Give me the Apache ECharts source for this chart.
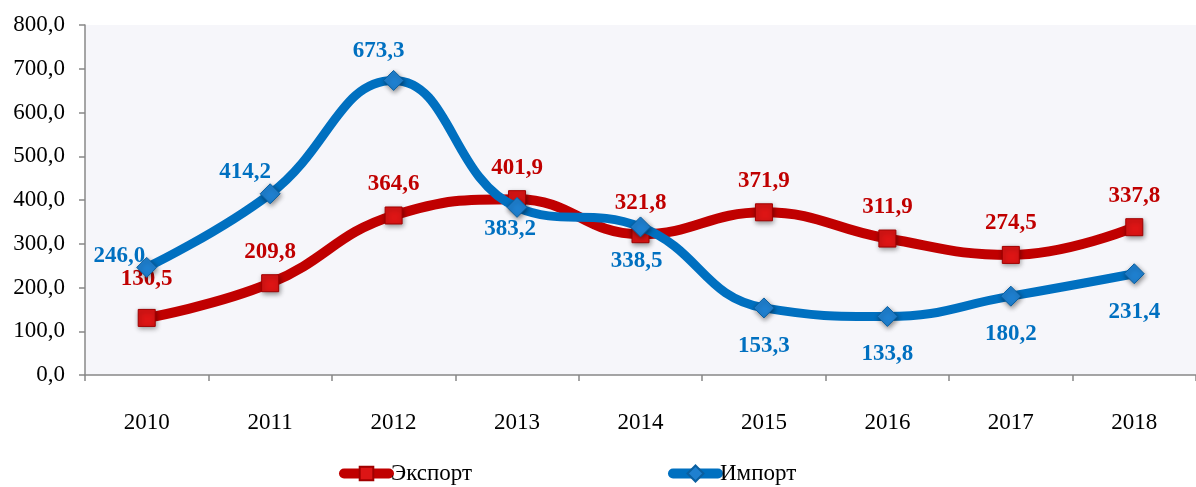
<!DOCTYPE html>
<html>
<head>
<meta charset="utf-8">
<script src="https://cdn.jsdelivr.net/npm/echarts@6/dist/echarts.min.js"></script>
<style>
  html, body { margin: 0; padding: 0; background: #fff; }
  #chart { width: 1196px; height: 487px; }
</style>
</head>
<body>
<div id="chart"></div>
<script>
const years = ['2010', '2011', '2012', '2013', '2014', '2015', '2016', '2017', '2018'];
const exportValues = [130.5, 209.8, 364.6, 401.9, 321.8, 371.9, 311.9, 274.5, 337.8];
const importValues = [246.0, 414.2, 673.3, 383.2, 338.5, 153.3, 133.8, 180.2, 231.4];

// label placement for the import series, one per year
const importLabelPos = [
  { position: 'left', distance: 0, offset: [9, -11] },
  { position: 'top', distance: 0, offset: [-25, 0] },
  { position: 'top', distance: 7, offset: [-15, 0] },
  { position: 'bottom', distance: 0, offset: [-7, 0] },
  { position: 'bottom', distance: 12, offset: [-4, 0] },
  { position: 'bottom', distance: 16 },
  { position: 'bottom', distance: 16 },
  { position: 'bottom', distance: 16 },
  { position: 'bottom', distance: 16 }
];

const font = "'Liberation Serif', 'Times New Roman', serif";
const fmt = v => v.toFixed(1).replace('.', ',');

const chart = echarts.init(document.getElementById('chart'));
chart.setOption({
  animation: false,
  textStyle: { fontFamily: font },
  grid: {
    left: 85,
    right: -7,
    top: 25,
    bottom: 112,
    show: true,
    backgroundColor: '#f6f6fa',
    borderWidth: 0
  },
  legend: [
    {
      data: ['Экспорт'],
      left: 334,
      top: 457,
      itemWidth: 45,
      itemHeight: 17,
      itemGap: 5,
      lineStyle: { width: 10, cap: 'round' },
      textStyle: { fontFamily: font, fontSize: 23, color: '#000', padding: [0, 0, 0, -3] }
    },
    {
      data: ['Импорт'],
      left: 663,
      top: 457,
      itemWidth: 45,
      itemHeight: 20,
      lineStyle: { width: 10, cap: 'round' },
      textStyle: { fontFamily: font, fontSize: 23, color: '#000', padding: [0, 0, 0, -3] }
    }
  ],
  xAxis: {
    type: 'category',
    data: years,
    boundaryGap: true,
    axisLine: { lineStyle: { color: '#888', width: 1.5 } },
    axisTick: { show: true, length: 6, lineStyle: { color: '#888', width: 1.5 } },
    axisLabel: { color: '#000', fontSize: 23, fontFamily: font, margin: 36 }
  },
  yAxis: {
    type: 'value',
    min: 0,
    max: 800,
    interval: 100,
    axisLine: { show: true, lineStyle: { color: '#888', width: 1.5 } },
    axisTick: { show: true, length: 6, lineStyle: { color: '#888', width: 1.5 } },
    splitLine: { show: false },
    axisLabel: {
      color: '#000',
      fontSize: 23,
      fontFamily: font,
      margin: 20,
      formatter: v => fmt(v)
    }
  },
  series: [
    {
      name: 'Экспорт',
      type: 'line',
      data: exportValues.map((v, i) => ({
        value: v,
        label: i === 0 ? { distance: 18 } : {}
      })),
      smooth: 0.45,
      symbol: 'rect',
      symbolSize: 17,
      lineStyle: { color: '#c00000', width: 10 },
      itemStyle: {
        color: '#dd1515',
        borderColor: '#a00000',
        borderWidth: 1,
        shadowColor: 'rgba(0,0,0,0.45)',
        shadowBlur: 5,
        shadowOffsetX: 1,
        shadowOffsetY: 2
      },
      label: {
        show: true,
        position: 'top',
        distance: 11,
        color: '#c00000',
        fontWeight: 'bold',
        fontSize: 23,
        fontFamily: font,
        formatter: p => fmt(p.value)
      },
      z: 2
    },
    {
      name: 'Импорт',
      type: 'line',
      data: importValues.map((v, i) => ({ value: v, label: importLabelPos[i] })),
      smooth: 0.45,
      symbol: 'diamond',
      symbolSize: 20,
      lineStyle: { color: '#0070c0', width: 9 },
      itemStyle: {
        color: '#1f80d0',
        borderColor: '#0a5fa0',
        borderWidth: 1,
        shadowColor: 'rgba(0,0,0,0.45)',
        shadowBlur: 5,
        shadowOffsetX: 1,
        shadowOffsetY: 2
      },
      label: {
        show: true,
        color: '#0070c0',
        fontWeight: 'bold',
        fontSize: 23,
        fontFamily: font,
        formatter: p => fmt(p.value)
      },
      z: 3
    }
  ]
});
</script>
</body>
</html>
